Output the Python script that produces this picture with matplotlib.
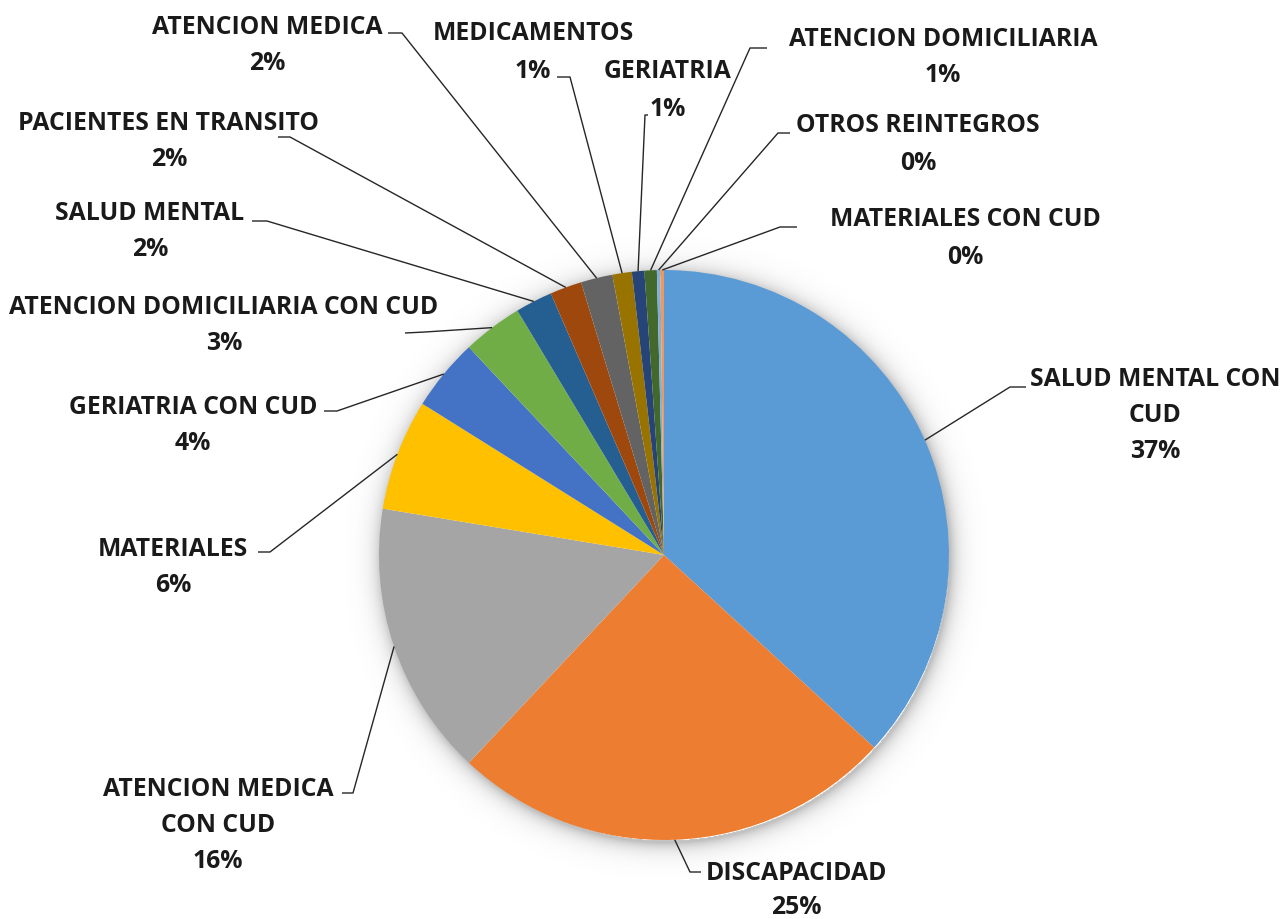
import numpy as np
import matplotlib
matplotlib.use("Agg")
import matplotlib.pyplot as plt

# Share of each category (percent)
categories = [
    "SALUD MENTAL CON CUD", "DISCAPACIDAD", "ATENCION MEDICA CON CUD",
    "MATERIALES", "GERIATRIA CON CUD", "ATENCION DOMICILIARIA CON CUD",
    "SALUD MENTAL", "PACIENTES EN TRANSITO", "ATENCION MEDICA",
    "MEDICAMENTOS", "GERIATRIA", "ATENCION DOMICILIARIA",
    "OTROS REINTEGROS", "MATERIALES CON CUD",
]
shares = [36.8, 25.2, 15.6, 6.3, 4.1, 3.4, 2.1, 1.8, 1.8, 1.1, 0.7, 0.7, 0.2, 0.2]

# How each category name is broken over lines in its label
label_lines = [
    ["SALUD MENTAL CON", "CUD"], ["DISCAPACIDAD"], ["ATENCION MEDICA", "CON CUD"],
    ["MATERIALES"], ["GERIATRIA CON CUD"], ["ATENCION DOMICILIARIA CON CUD"],
    ["SALUD MENTAL"], ["PACIENTES EN TRANSITO"], ["ATENCION MEDICA"],
    ["MEDICAMENTOS"], ["GERIATRIA"], ["ATENCION DOMICILIARIA"],
    ["OTROS REINTEGROS"], ["MATERIALES CON CUD"],
]

colors = ["#5B9BD5", "#ED7D31", "#A5A5A5", "#FFC000", "#4472C4", "#70AD47",
          "#255E91", "#9E480E", "#636363", "#997300", "#264478", "#43682B",
          "#7CAFDD", "#F1975A"]

W, H = 1285, 919
CX, CY, R = 664, 555, 285   # pie centre / radius in pixels (y from top)

# label layout in pixels: text centre x, first line y, line step,
# elbow of leader, leader end
label_layout = [
    (1155, 377, 36, (1010, 387), (1026, 387)),
    (796, 871, 34, (690, 872), (701, 872)),
    (218, 787, 36, (353, 793), (342, 793)),
    (173, 548, 36, (270, 552), (258, 552)),
    (193, 405, 36, (337, 411), (324, 411)),
    (224, 306, 36, (425, 332), (405, 333)),
    (150, 212, 36, (267, 221), (252, 221)),
    (169, 121, 36, (290, 137), (278, 137)),
    (267, 26, 36, (402, 33), (388, 33)),
    (533, 32, 38, (570, 77), (557, 77)),
    (668, 70, 38, (645, 115), (648, 115)),
    (943, 37, 37, (750, 48), (767, 48)),
    (918, 124, 38, (778, 133), (790, 133)),
    (965, 217, 38, (780, 227), (797, 227)),
]


def py(y):
    return H - y


fig = plt.figure(figsize=(W / 100, H / 100), dpi=100)
ax = fig.add_axes([0, 0, 1, 1])

# soft shadow around the pie
gx, gy = np.meshgrid(np.arange(CX - R - 40, CX + R + 40),
                     np.arange(py(CY) - R - 40, py(CY) + R + 40))
d = np.hypot(gx - CX - 2, gy - py(CY) + 3)
alpha = np.where(d >= R - 2, 0.38 * np.exp(-np.clip(d - R, 0, None) / 8.5), 0.0)
shadow = np.zeros(d.shape + (4,))
shadow[..., :3] = 0.35
shadow[..., 3] = alpha
ax.imshow(shadow, extent=(gx.min(), gx.max(), gy.min(), gy.max()),
          origin="lower", zorder=0, interpolation="bilinear")

wedges, _ = ax.pie(shares, colors=colors, startangle=90, counterclock=False,
                   center=(CX, py(CY)), radius=R,
                   wedgeprops=dict(linewidth=0, zorder=2))

ax.set_xlim(0, W)
ax.set_ylim(0, H)
ax.set_aspect("equal")
ax.axis("off")

font = dict(family="Open Sans", weight="bold", size=17.8, color="#1a1a1a")
CAP = 8.5

for w, val, lines, (tx, ty, step, elbow, end) in zip(wedges, shares, label_lines,
                                                     label_layout):
    mid = np.deg2rad((w.theta1 + w.theta2) / 2)
    ax_pt = (CX + R * np.cos(mid), py(CY) + R * np.sin(mid))
    xs = [ax_pt[0], elbow[0], end[0]]
    ys = [ax_pt[1], py(elbow[1]), py(end[1])]
    ax.plot(xs, ys, color="#262626", lw=1.0, zorder=3, solid_capstyle="butt")
    texts = lines + [f"{round(val)}%"]
    for i, t in enumerate(texts):
        ax.text(tx, py(ty + i * step + CAP), t, ha="center", va="baseline",
                zorder=4, **font)

fig.savefig("out.png", dpi=100, facecolor="white")
